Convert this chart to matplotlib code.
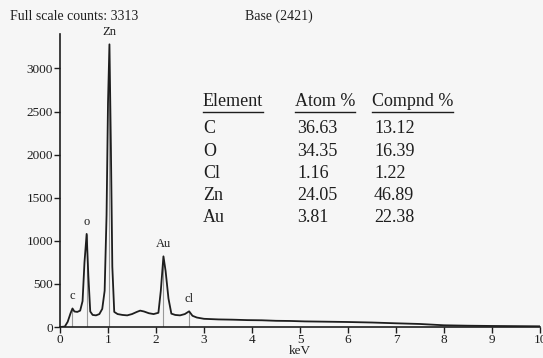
import matplotlib
matplotlib.use("Agg")
import matplotlib.pyplot as plt
from matplotlib.lines import Line2D

# --- spectrum (keV, counts) ---
energy_kev = [0.00, 0.10, 0.16, 0.22, 0.26, 0.30, 0.36, 0.42, 0.47, 0.51,
              0.555, 0.59, 0.63, 0.68, 0.75, 0.82, 0.88, 0.93, 0.97, 1.00,
              1.03, 1.06, 1.09, 1.13, 1.20, 1.30, 1.40, 1.50, 1.60, 1.67,
              1.75, 1.85, 1.95, 2.05, 2.10, 2.155, 2.20, 2.26, 2.32, 2.40,
              2.50, 2.60, 2.69, 2.76, 2.85, 3.0, 3.3, 3.6, 3.9, 4.2,
              4.5, 4.8, 5.1, 5.5, 6.0, 6.5, 7.0, 7.5, 8.0, 8.5,
              9.0, 9.5, 10.0]
counts = [0, 5, 60, 160, 215, 180, 175, 190, 300, 750,
          1080, 600, 180, 140, 135, 150, 210, 420, 1300, 2600,
          3280, 2100, 700, 175, 150, 140, 135, 150, 175, 190,
          180, 160, 150, 165, 420, 820, 650, 330, 155, 140,
          135, 150, 182, 130, 110, 95, 88, 85, 80, 78,
          72, 70, 65, 62, 58, 52, 43, 35, 20, 15,
          12, 10, 8]

# peak markers
peak_labels = ["c", "o", "Zn", "Au", "cl"]
peak_kev = [0.26, 0.555, 1.03, 2.155, 2.69]
peak_counts = [215, 1080, 3280, 820, 182]

# quantification table
elements = ["C", "O", "Cl", "Zn", "Au"]
atom_pct = ["36.63", "34.35", "1.16", "24.05", "3.81"]
compnd_pct = ["13.12", "16.39", "1.22", "46.89", "22.38"]

plt.rcParams['font.family'] = ['Liberation Serif', 'DejaVu Serif']
ink = "#1e1e1e"
bg = "#f6f6f6"

W, H = 543, 358
fig = plt.figure(figsize=(W / 100, H / 100), dpi=100, facecolor=bg)
ax = fig.add_axes([60 / W, 1 - 327 / H, 480 / W, 293 / H], facecolor=bg)

# --- spectrum + marker lines ---
ax.vlines(peak_kev, 0, peak_counts, color="#9a9a9a", lw=0.8, zorder=1)
ax.plot(energy_kev, counts, color=ink, lw=1.3, zorder=2)
for lab, e, c in zip(peak_labels, peak_kev, peak_counts):
    ax.text(e, c + 70, lab, ha="center", va="bottom", fontsize=9, color=ink)

ax.set_xlim(0, 10)
ax.set_ylim(0, 3400)
ax.set_xticks(range(0, 11))
ax.set_yticks([0, 500, 1000, 1500, 2000, 2500, 3000])
ax.spines["top"].set_visible(False)
ax.spines["right"].set_visible(False)
for s in ("left", "bottom"):
    ax.spines[s].set_color(ink)
    ax.spines[s].set_linewidth(1.2)
ax.tick_params(axis="both", direction="out", length=4, width=1, colors=ink,
               labelsize=9.5, pad=1)
ax.set_xlabel("keV", fontsize=9.5, color=ink, labelpad=-1)

# --- header texts ---
fig.text(10 / W, 1 - 16 / H, "Full scale counts: 3313", fontsize=10,
         color=ink, va="center")
fig.text(245 / W, 1 - 16 / H, "Base (2421)", fontsize=10, color=ink,
         va="center")

# --- table ---
col_x = [203, 295, 372]
row_y = [102, 128, 151, 174, 196, 218]
headers = ["Element", "Atom %", "Compnd %"]
head_txt = []
for x, h in zip(col_x, headers):
    head_txt.append(fig.text(x / W, 1 - row_y[0] / H, h, fontsize=13,
                             color=ink, va="center"))
for i in range(len(elements)):
    y = 1 - row_y[i + 1] / H
    fig.text(col_x[0] / W, y, elements[i], fontsize=13, color=ink, va="center")
    fig.text(col_x[1] / W + 2 / W, y, atom_pct[i], fontsize=13, color=ink,
             va="center")
    fig.text(col_x[2] / W + 2 / W, y, compnd_pct[i], fontsize=13, color=ink,
             va="center")

# underline the headers
fig.canvas.draw()
r = fig.canvas.get_renderer()
for t in head_txt:
    bb = t.get_window_extent(r).transformed(fig.transFigure.inverted())
    fig.add_artist(Line2D([bb.x0, bb.x1], [1 - 112 / H] * 2, color=ink,
                          lw=1.0, transform=fig.transFigure))

fig.savefig("out.png", dpi=100, facecolor=bg)
